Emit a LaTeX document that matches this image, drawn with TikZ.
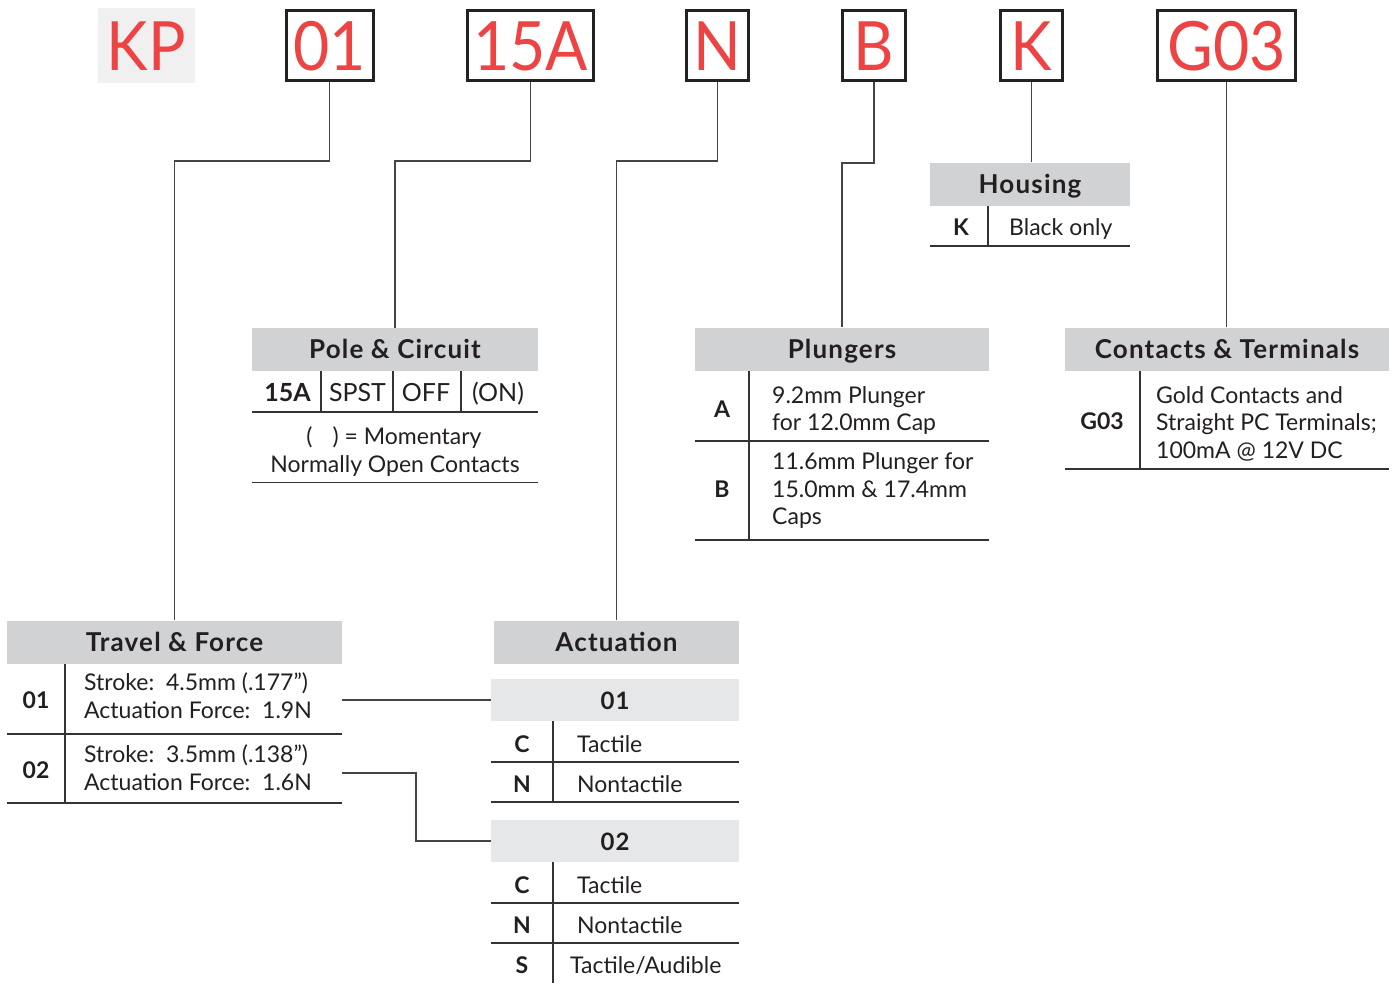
\documentclass[tikz,border=0pt]{standalone}
\usepackage{fontspec}
\setmainfont{Lato}
\newfontfamily\hdrfont[LetterSpace=4.5]{Lato}
\newfontfamily\bigfont[FakeStretch=0.92]{Lato}
\definecolor{codered}{HTML}{EE4343}
\definecolor{hdrgray}{HTML}{D1D2D4}
\definecolor{subgray}{HTML}{E6E7E8}
\definecolor{kpbg}{HTML}{F0F0F0}
\definecolor{rulec}{HTML}{333333}
\definecolor{connc}{HTML}{444444}
\definecolor{boxc}{HTML}{222222}
\definecolor{txtc}{HTML}{231F20}
\tikzset{
  bigcode/.style={text=codered, font=\bigfont\fontsize{68}{68}\selectfont, inner sep=0, text height=49, text depth=0, minimum height=70},
  codebox/.style={bigcode, draw=boxc, line width=3pt},
  kpbox/.style={bigcode, fill=kpbg, minimum width=97, minimum height=75},
  hdr/.style={fill=hdrgray, inner sep=0, minimum height=43, text height=18, text depth=0, font=\hdrfont\bfseries\fontsize{26}{28}\selectfont, text=txtc},
  subhdr/.style={fill=subgray, inner sep=0, minimum height=42, text height=18, text depth=0, font=\hdrfont\bfseries\fontsize{24}{28}\selectfont, text=txtc},
  body/.style={font=\fontsize{23}{28}\selectfont, text=txtc, inner sep=0, anchor=base west},
  bodyc/.style={font=\fontsize{23}{28}\selectfont, text=txtc, inner sep=0, anchor=base},
  codetxt/.style={font=\bfseries\fontsize{23}{28}\selectfont, text=txtc, inner sep=0, anchor=base},
  rowbig/.style={font=\fontsize{25}{28}\selectfont, text=txtc, inner sep=0, anchor=base},
  rowbigb/.style={rowbig, font=\bfseries\fontsize{25}{28}\selectfont},
  rule/.style={draw=rulec, line width=1.4pt},
  conn/.style={draw=connc, line width=1.3pt},
}
\begin{document}
\begin{tikzpicture}[x=1pt,y=-1pt]
\useasboundingbox (0,0) rectangle (1392,983);
% ---- top code row
\node[kpbox] (kp) at (146.5,45.5) {KP};
\node[codebox, minimum width=87] (c01) at (329.5,45.5) {01};
\node[codebox, minimum width=126] (c15A) at (530.5,45.5) {15A};
\node[codebox, minimum width=62] (cN) at (717.5,45.5) {N};
\node[codebox, minimum width=63] (cB) at (874,45.5) {B};
\node[codebox, minimum width=62] (cK) at (1031.5,45.5) {K};
\node[codebox, minimum width=138] (cG03) at (1226.5,45.5) {G03};

% ---- Pole & Circuit
\node[hdr, minimum width=286] (pch) at (395,349.5) {Pole \& Circuit};
\draw[rule] (252,412) -- (538,412);
\draw[rule] (252,482.5) -- (538,482.5);
\draw[rule] (321,371) -- (321,412);
\draw[rule] (393,371) -- (393,412);
\draw[rule] (461,371) -- (461,412);
\node[rowbigb] (pc15a) at (287.5,401) {15A};
\node[rowbig] (pcspst) at (357.5,401) {SPST};
\node[rowbig] (pcoff) at (426,401) {OFF};
\node[rowbig] (pcon) at (498,401) {(ON)};
\node[bodyc] (pcmom) at (394,444) {(\hspace{20pt}) = Momentary};
\node[bodyc] (pcno) at (395,472) {Normally Open Contacts};

% ---- Plungers
\node[hdr, minimum width=294] (plh) at (842,349) {Plungers};
\draw[rule] (749,371) -- (749,540);
\draw[rule] (695,441) -- (989,441);
\draw[rule] (695,540) -- (989,540);
\node[codetxt] (plA) at (722,417) {A};
\node[body] (plA1) at (772,403) {9.2mm Plunger};
\node[body] (plA2) at (772,430) {for 12.0mm Cap};
\node[codetxt] (plB) at (722,497) {B};
\node[body] (plB1) at (772,469) {11.6mm Plunger for};
\node[body] (plB2) at (772,497) {15.0mm \& 17.4mm};
\node[body] (plB3) at (772,524) {Caps};

% ---- Housing
\node[hdr, minimum width=200] (hsh) at (1030,184) {Housing};
\draw[rule] (988,206) -- (988,246);
\draw[rule] (930,246) -- (1130,246);
\node[codetxt] (hsK) at (961,235) {K};
\node[body] (hsK1) at (1009,235) {Black only};

% ---- Contacts & Terminals
\node[hdr, minimum width=324] (cth) at (1227,349) {Contacts \& Terminals};
\draw[rule] (1140,371) -- (1140,469);
\draw[rule] (1065,469) -- (1389,469);
\node[codetxt] (ctG) at (1102,429) {G03};
\node[body] (ct1) at (1156,403) {Gold Contacts and};
\node[body] (ct2) at (1156,430) {Straight PC Terminals;};
\node[body] (ct3) at (1156,458) {100mA @ 12V DC};

% ---- Travel & Force
\node[hdr, minimum width=335] (tfh) at (174.5,642) {Travel \& Force};
\draw[rule] (65,664) -- (65,803);
\draw[rule] (7,734) -- (342,734);
\draw[rule] (7,803) -- (342,803);
\node[codetxt] (tf01) at (36,708) {01};
\node[body] (tf01a) at (84,690) {Stroke:\ \ 4.5mm (.177”)};
\node[body] (tf01b) at (84,718) {Actuation Force:\ \ 1.9N};
\node[codetxt] (tf02) at (36,778) {02};
\node[body] (tf02a) at (84,762) {Stroke:\ \ 3.5mm (.138”)};
\node[body] (tf02b) at (84,790) {Actuation Force:\ \ 1.6N};
\coordinate (tfr1) at (342,700);
\coordinate (tfr2) at (342,773);
\coordinate (tbend) at (416,773);

% ---- Actuation
\node[hdr, minimum width=245] (ach) at (616.5,642) {Actuation};
\node[subhdr, minimum width=248] (a01h) at (615,700) {01};
\draw[rule] (553,721) -- (553,802);
\draw[rule] (491,762) -- (739,762);
\draw[rule] (491,802) -- (739,802);
\node[codetxt] (a1C) at (522,752) {C};
\node[body] (a1C1) at (577,752) {Tactile};
\node[codetxt] (a1N) at (522,792) {N};
\node[body] (a1N1) at (577,792) {Nontactile};
\node[subhdr, minimum width=248] (a02h) at (615,841) {02};
\draw[rule] (553,862) -- (553,983);
\draw[rule] (491,903) -- (739,903);
\draw[rule] (491,943) -- (739,943);
\node[codetxt] (a2C) at (522,893) {C};
\node[body] (a2C1) at (577,893) {Tactile};
\node[codetxt] (a2N) at (522,933) {N};
\node[body] (a2N1) at (577,933) {Nontactile};
\node[codetxt] (a2S) at (522,973) {S};
\node[body] (a2S1) at (570,973) {Tactile/Audible};

% ---- connectors
\draw[conn] (c01.south) -- (c01.south |- 0,161) -| (tfh.north);
\draw[conn] (c15A.south) -- (c15A.south |- 0,161) -| (pch.north);
\draw[conn] (cN.south) -- (cN.south |- 0,161) -| (ach.north);
\draw[conn] (cB.south) -- (cB.south |- 0,163) -| (plh.north);
\draw[conn] (cK.south) -- (cK.south |- hsh.north);
\draw[conn] (cG03.south) -- (cG03.south |- cth.north);
\draw[conn] (tfr1) -- (a01h.west);
\draw[conn] (tfr2) -- (tbend) |- (a02h.west);
\end{tikzpicture}
\end{document}
